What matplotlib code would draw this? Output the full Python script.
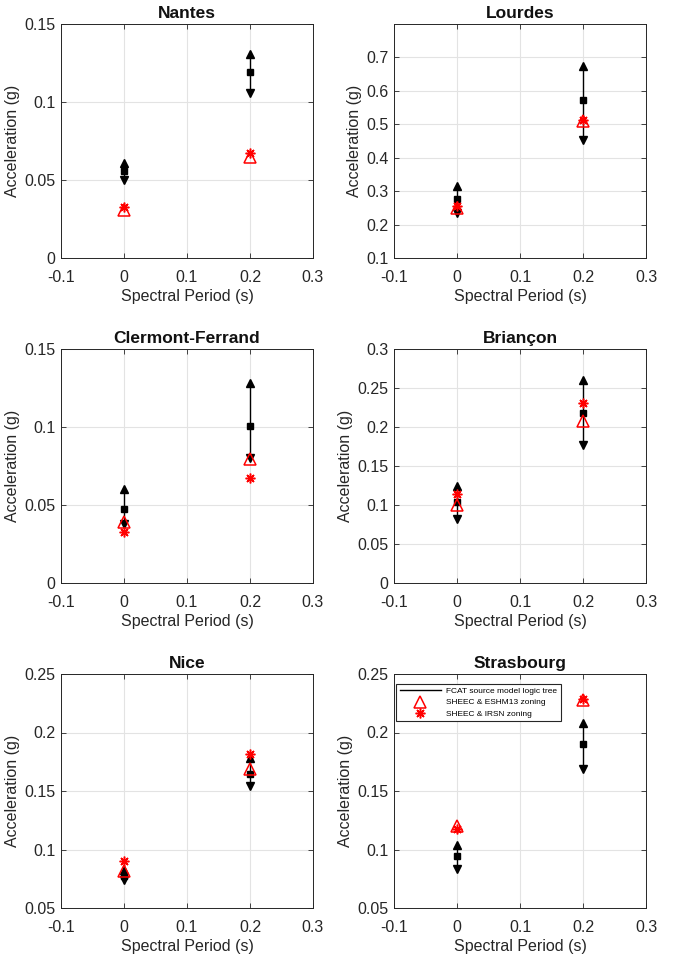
import matplotlib
matplotlib.use("Agg")
import matplotlib.pyplot as plt
from matplotlib.lines import Line2D
from matplotlib.ticker import FuncFormatter

plt.rcParams['font.family'] = ['Liberation Sans', 'DejaVu Sans']
plt.rcParams['axes.unicode_minus'] = False

periods = [0.0, 0.2]

cities = ["Nantes", "Lourdes", "Clermont-Ferrand", "Briançon", "Nice", "Strasbourg"]

nantes_med = [0.056, 0.119]
nantes_up = [0.061, 0.1305]
nantes_lo = [0.0497, 0.106]
nantes_eshm = [0.031, 0.0647]
nantes_irsn = [0.0326, 0.0673]

lourdes_med = [0.277, 0.571]
lourdes_up = [0.315, 0.673]
lourdes_lo = [0.234, 0.453]
lourdes_eshm = [0.250, 0.509]
lourdes_irsn = [0.254, 0.513]

clermont_med = [0.0474, 0.1007]
clermont_up = [0.0604, 0.1284]
clermont_lo = [0.038, 0.080]
clermont_eshm = [0.0393, 0.0794]
clermont_irsn = [0.0326, 0.0674]

briancon_med = [0.104, 0.218]
briancon_up = [0.125, 0.260]
briancon_lo = [0.0824, 0.177]
briancon_eshm = [0.100, 0.208]
briancon_irsn = [0.1144, 0.2305]

nice_med = [0.0772, 0.1643]
nice_up = [0.0826, 0.1785]
nice_lo = [0.0738, 0.1544]
nice_eshm = [0.0815, 0.169]
nice_irsn = [0.0903, 0.182]

stras_med = [0.0943, 0.190]
stras_up = [0.1039, 0.2077]
stras_lo = [0.0835, 0.169]
stras_eshm = [0.1203, 0.228]
stras_irsn = [0.1175, 0.229]

ylims = [(0, 0.15), (0.1, 0.799), (0, 0.15), (0, 0.3), (0.05, 0.25), (0.05, 0.25)]
yticks = [[0, 0.05, 0.1, 0.15],
          [0.1, 0.2, 0.3, 0.4, 0.5, 0.6, 0.7],
          [0, 0.05, 0.1, 0.15],
          [0, 0.05, 0.1, 0.15, 0.2, 0.25, 0.3],
          [0.05, 0.1, 0.15, 0.2, 0.25],
          [0.05, 0.1, 0.15, 0.2, 0.25]]
xticks = [-0.1, 0, 0.1, 0.2, 0.3]

data = [
    (nantes_med, nantes_up, nantes_lo, nantes_eshm, nantes_irsn),
    (lourdes_med, lourdes_up, lourdes_lo, lourdes_eshm, lourdes_irsn),
    (clermont_med, clermont_up, clermont_lo, clermont_eshm, clermont_irsn),
    (briancon_med, briancon_up, briancon_lo, briancon_eshm, briancon_irsn),
    (nice_med, nice_up, nice_lo, nice_eshm, nice_irsn),
    (stras_med, stras_up, stras_lo, stras_eshm, stras_irsn),
]

legend_labels = ["FCAT source model logic tree", "SHEEC & ESHM13 zoning", "SHEEC & IRSN zoning"]

W, H = 685, 958
fig = plt.figure(figsize=(W / 100, H / 100), dpi=100)

lefts = [61, 394]
tops = [24, 349, 674]
aw, ah = 252, 234

gray = '#262626'
asterisk = (8, 2, 0)

fmt = FuncFormatter(lambda v, p: ('%g' % round(v, 6)))

for i, city in enumerate(cities):
    r, c = divmod(i, 2)
    ax = fig.add_axes([lefts[c] / W, 1 - (tops[r] + ah) / H, aw / W, ah / H])
    med, up, lo, eshm, irsn = data[i]
    for k, p in enumerate(periods):
        ax.plot([p, p], [lo[k], up[k]], color='black', lw=1.0, zorder=3)
    ax.plot(periods, up, linestyle='none', marker='^', color='black', ms=6, zorder=4)
    ax.plot(periods, lo, linestyle='none', marker='v', color='black', ms=6, zorder=4)
    ax.plot(periods, med, linestyle='none', marker='s', color='black', ms=5, zorder=4)
    ax.plot(periods, eshm, linestyle='none', marker='^', mfc='none', mec='red', mew=1.1, ms=8, zorder=5)
    ax.plot(periods, irsn, linestyle='none', marker=asterisk, color='red', mec='red', mew=1.1, ms=7, zorder=6)

    ax.set_xlim(-0.1, 0.3)
    ax.set_ylim(*ylims[i])
    ax.set_xticks(xticks)
    ax.set_yticks(yticks[i])
    ax.xaxis.set_major_formatter(fmt)
    ax.yaxis.set_major_formatter(fmt)
    ax.grid(True, color='#e3e3e3', lw=0.8)
    ax.set_axisbelow(True)
    ax.tick_params(direction='in', top=True, right=True, length=3.5, width=0.6,
                   labelsize=11.5, colors=gray)
    ax.tick_params(axis='x', pad=8.5)
    ax.tick_params(axis='y', pad=4)
    for s in ax.spines.values():
        s.set_color(gray)
        s.set_linewidth(0.7)
    ax.set_xlabel("Spectral Period (s)", fontsize=11.5, color=gray, labelpad=3)
    ax.set_ylabel("Acceleration (g)", fontsize=11.5, color=gray, labelpad=3)
    ax.set_title(city, fontsize=12.5, fontweight='bold', color='#111111', pad=4)

    if city == "Strasbourg":
        handles = [
            Line2D([], [], color='black', lw=1.0),
            Line2D([], [], linestyle='none', marker='^', mfc='none', mec='red', mew=1.1, ms=8),
            Line2D([], [], linestyle='none', marker=asterisk, color='red', mew=1.1, ms=7),
        ]
        fs = 6.0
        bx = (396 - lefts[c]) / aw
        by = 1 - (684 - tops[r]) / ah
        leg = ax.legend(handles, legend_labels, loc='upper left', fontsize=fs,
                        bbox_to_anchor=(bx, by), borderaxespad=0,
                        frameon=True, fancybox=False, edgecolor=gray, framealpha=1,
                        borderpad=0.42, handlelength=5.0, labelspacing=0.4,
                        handletextpad=0.6)
        leg.get_frame().set_linewidth(0.8)

fig.savefig("out.png", dpi=100)
